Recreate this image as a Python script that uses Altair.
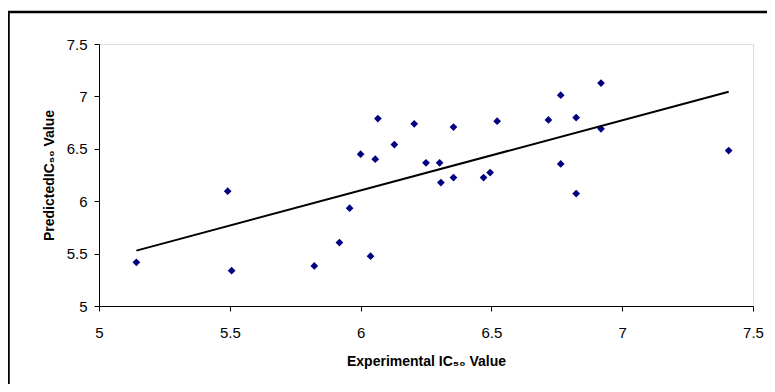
import altair as alt
import pandas as pd

experimental = [5.143, 5.492, 5.507, 5.823, 5.919, 5.958, 6.000, 6.038, 6.056, 6.066,
                6.129, 6.205, 6.250, 6.302, 6.307, 6.355, 6.355, 6.470, 6.495, 6.522,
                6.718, 6.765, 6.765, 6.824, 6.824, 6.919, 6.919, 7.407]
predicted = [5.417, 6.095, 5.337, 5.382, 5.605, 5.933, 6.449, 5.475, 6.401, 6.789,
             6.541, 6.738, 6.366, 6.366, 6.178, 6.707, 6.226, 6.226, 6.273, 6.764,
             6.776, 7.012, 6.356, 6.798, 6.073, 7.127, 6.691, 6.483]
x_ticks = [5, 5.5, 6, 6.5, 7, 7.5]
y_ticks = [5, 5.5, 6, 6.5, 7, 7.5]

df = pd.DataFrame({"exp": experimental, "pred": predicted})

FONT = "Liberation Sans"

xenc = alt.X("exp:Q", scale=alt.Scale(domain=[5, 7.5], nice=False, zero=False),
             axis=alt.Axis(values=x_ticks, format="~g", title="Experimental IC₅₀ Value", grid=False,
                           domainColor="#000000", tickColor="#000000", tickSize=5,
                           labelColor="#000000", labelFontSize=15, labelFont=FONT,
                           labelPadding=14, titleFont=FONT, titleFontSize=14,
                           titleFontWeight="bold", titleColor="#000000", titlePadding=14,
                           labelFlush=False))
yenc = alt.Y("pred:Q", scale=alt.Scale(domain=[5, 7.5], nice=False, zero=False),
             axis=alt.Axis(values=y_ticks, format="~g", title="PredictedIC₅₀ Value", grid=False,
                           domainColor="#000000", tickColor="#000000", tickSize=5,
                           labelColor="#000000", labelFontSize=15, labelFont=FONT,
                           labelPadding=7, titleFont=FONT, titleFontSize=14,
                           titleFontWeight="bold", titleColor="#000000", titlePadding=10,
                           labelFlush=False))

base = alt.Chart(df)

border = alt.Chart(pd.DataFrame({"a": [0]})).mark_rect(
    fill=None, stroke="#000000", strokeWidth=2.5, clip=False
).encode(x=alt.value(-90.5), x2=alt.value(700), y=alt.value(-32), y2=alt.value(380))

points = base.mark_point(shape="diamond", filled=True, color="#000080", size=60, opacity=1).encode(
    x=xenc, y=yenc)

trend = base.transform_regression("exp", "pred").mark_line(color="#000000", strokeWidth=2).encode(
    x="exp:Q", y="pred:Q")

chart = alt.layer(border, points, trend).properties(
    width=654, height=262,
    autosize=alt.AutoSizeParams(type="none"),
    padding={"left": 91, "top": 36, "right": 14, "bottom": 78},
).configure_view(stroke=None).configure(background="#ffffff")

chart.save("out.html", embed_options={"renderer": "svg", "actions": False})
